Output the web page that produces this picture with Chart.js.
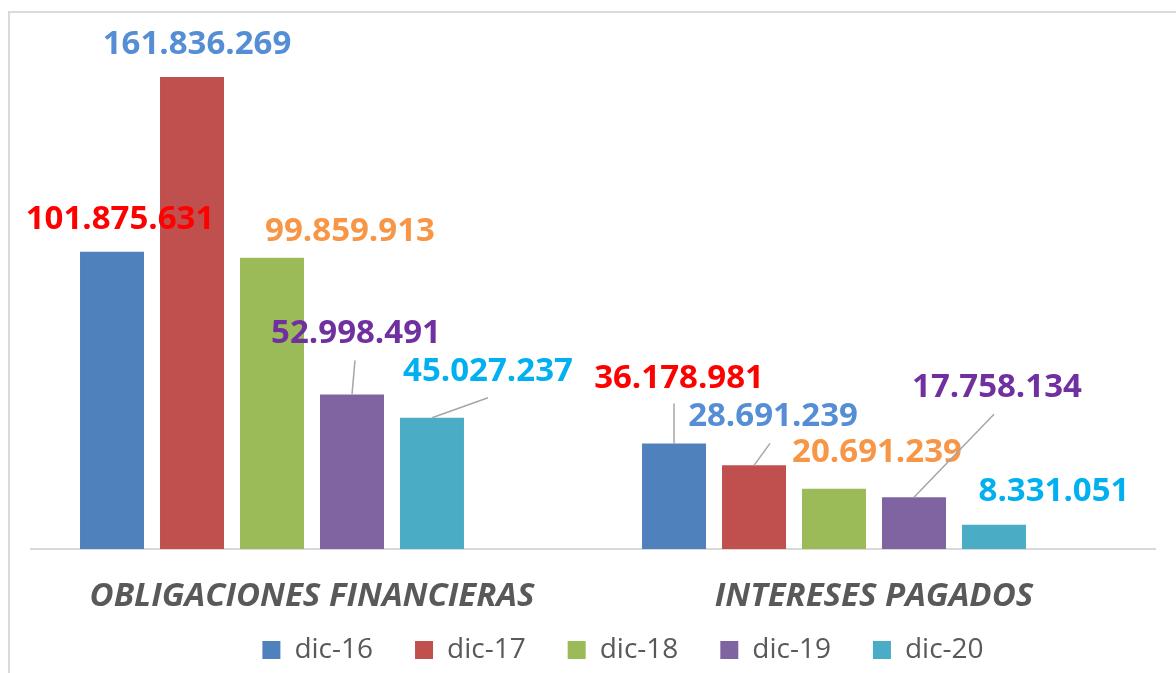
<!DOCTYPE html>
<html>
<head>
<meta charset="utf-8">
<script src="https://cdn.jsdelivr.net/npm/chart.js@4/dist/chart.umd.min.js"></script>
<style>
  html, body { margin: 0; padding: 0; background: #fff; }
  #wrap { width: 1176px; height: 673px; position: relative; }
</style>
</head>
<body>
<div id="wrap"><canvas id="chart"></canvas></div>
<script>
const categories = ['OBLIGACIONES FINANCIERAS', 'INTERESES PAGADOS'];
const seriesNames = ['dic-16', 'dic-17', 'dic-18', 'dic-19', 'dic-20'];
const dic16 = [101875631, 36178981];
const dic17 = [161836269, 28691239];
const dic18 = [99859913, 20691239];
const dic19 = [52998491, 17758134];
const dic20 = [45027237, 8331051];

const barColors = ['#4F81BD', '#C0504D', '#9BBB59', '#8064A2', '#4BACC6'];
const labelColors = ['#FF0000', '#558ED5', '#F79646', '#7030A0', '#00B0F0'];

// label centre offsets from the bar top, per category / series
const labelOffsets = [
    [[8, -32], [5, -32], [78, -26], [4, -61], [56, -46]],
    [[5, -65], [19, -49], [43, -36], [83, -110], [60, -33]]
];
// leader line ends (from bar top), null = no line
const leaderEnds = [
    [null, null, null, [3, -34], [56, -20]],
    [[0, -40], [16, -22], null, [80, -83], null]
];

const fmt = v => String(v).replace(/\B(?=(\d{3})+(?!\d))/g, '.');

const frame = {
    id: 'frame',
    beforeDraw(chart) {
        const ctx = chart.ctx;
        ctx.save();
        ctx.strokeStyle = '#d9d9d9';
        ctx.lineWidth = 2;
        ctx.strokeRect(9, 12, 1200, 700);
        ctx.restore();
    }
};

// nudge the legend a little right/down, like the excel layout
const legendNudge = {
    id: 'legendNudge',
    afterLayout(chart) {
        const lg = chart.legend;
        lg.left += 30; lg.right += 30;
        lg.top += 2; lg.bottom += 2;
    }
};

const valueLabels = {
    id: 'valueLabels',
    afterDatasetsDraw(chart) {
        const ctx = chart.ctx;
        ctx.save();
        ctx.font = 'bold 33px "Open Sans"';
        ctx.textAlign = 'center';
        ctx.textBaseline = 'middle';
        for (let s = 0; s < seriesNames.length; s++) {
            const meta = chart.getDatasetMeta(s);
            meta.data.forEach((bar, c) => {
                const lead = leaderEnds[c][s];
                if (lead) {
                    ctx.strokeStyle = '#a6a6a6';
                    ctx.lineWidth = 1.5;
                    ctx.beginPath();
                    ctx.moveTo(bar.x, bar.y);
                    ctx.lineTo(bar.x + lead[0], bar.y + lead[1]);
                    ctx.stroke();
                }
                const off = labelOffsets[c][s];
                ctx.fillStyle = labelColors[s];
                ctx.fillText(fmt(chart.data.datasets[s].data[c]), bar.x + off[0], bar.y + off[1]);
            });
        }
        ctx.restore();
    }
};

const seriesData = [dic16, dic17, dic18, dic19, dic20];
const datasets = seriesNames.map((name, i) => ({
    label: name,
    data: seriesData[i],
    backgroundColor: barColors[i],
    barPercentage: 0.8,
    categoryPercentage: 0.854
}));
// empty sixth slot, as in the original workbook
datasets.push({ label: '', data: [null, null], backgroundColor: 'transparent', barPercentage: 0.8, categoryPercentage: 0.854 });

new Chart(document.getElementById('chart'), {
    type: 'bar',
    data: { labels: categories, datasets: datasets },
    plugins: [frame, legendNudge, valueLabels],
    options: {
        responsive: true,
        maintainAspectRatio: false,
        animation: false,
        layout: { padding: { top: 24, left: 31, right: 21, bottom: 1 } },
        plugins: {
            tooltip: { enabled: false },
            legend: {
                position: 'bottom',
                labels: {
                    filter: item => item.datasetIndex < 5,
                    boxWidth: 18,
                    boxHeight: 18,
                    padding: 42,
                    color: '#595959',
                    font: { family: 'Open Sans', size: 28 }
                }
            }
        },
        scales: {
            x: {
                grid: { drawOnChartArea: false, drawTicks: false },
                border: { color: '#d9d9d9', width: 2 },
                ticks: {
                    color: '#595959',
                    mirror: true,
                    padding: -67,
                    font: { family: 'Open Sans', size: 33, style: 'italic', weight: 'bold' }
                },
                afterFit: scale => { scale.height = 43; }
            },
            y: {
                display: false,
                min: 0,
                max: 180000000
            }
        }
    }
});
</script>
</body>
</html>
